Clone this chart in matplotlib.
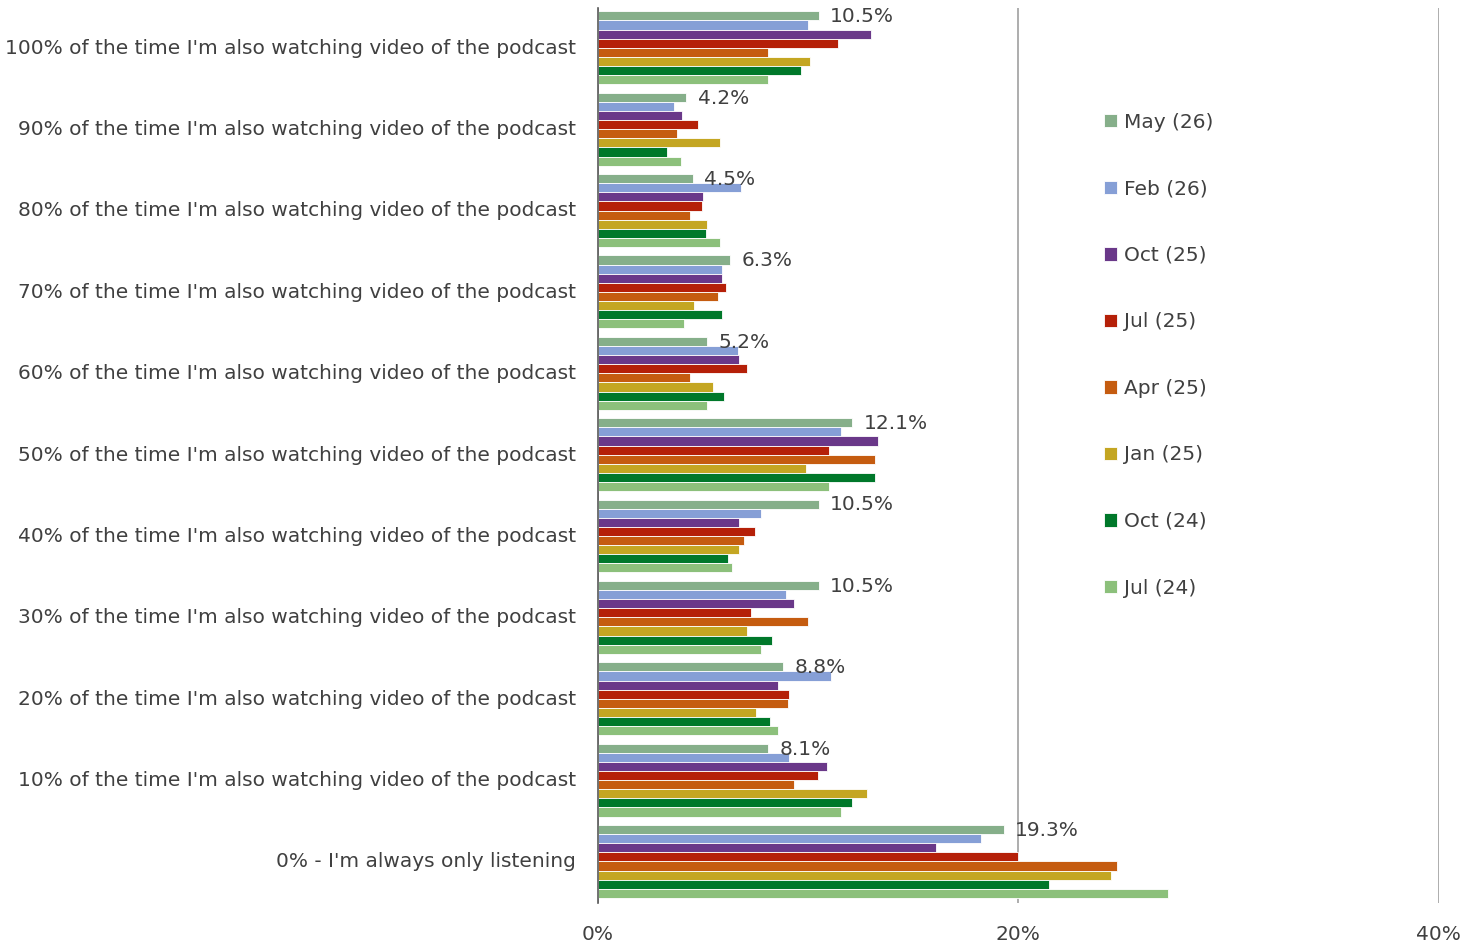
import matplotlib.pyplot as plt
import numpy as np

categories = [
    "100% of the time I'm also watching video of the podcast",
    "90% of the time I'm also watching video of the podcast",
    "80% of the time I'm also watching video of the podcast",
    "70% of the time I'm also watching video of the podcast",
    "60% of the time I'm also watching video of the podcast",
    "50% of the time I'm also watching video of the podcast",
    "40% of the time I'm also watching video of the podcast",
    "30% of the time I'm also watching video of the podcast",
    "20% of the time I'm also watching video of the podcast",
    "10% of the time I'm also watching video of the podcast",
    "0% - I'm always only listening",
]

series_names = ["May (26)", "Feb (26)", "Oct (25)", "Jul (25)", "Apr (25)", "Jan (25)", "Oct (24)", "Jul (24)"]
colors = ["#86af8a", "#869fd6", "#6a3889", "#b52008", "#c55c10", "#c4a622", "#00782a", "#8cc07b"]

may26 = [10.5, 4.2, 4.5, 6.3, 5.2, 12.1, 10.5, 10.5, 8.8, 8.1, 19.3]
feb26 = [10.0, 3.6, 6.8, 5.9, 6.65, 11.55, 7.75, 8.95, 11.1, 9.1, 18.2]
oct25 = [13.0, 4.0, 5.0, 5.9, 6.7, 13.3, 6.7, 9.35, 8.55, 10.9, 16.1]
jul25 = [11.4, 4.75, 4.95, 6.1, 7.1, 11.0, 7.45, 7.3, 9.1, 10.45, 20.0]
apr25 = [8.1, 3.75, 4.4, 5.7, 4.4, 13.2, 6.95, 10.0, 9.05, 9.35, 24.7]
jan25 = [10.1, 5.8, 5.2, 4.55, 5.45, 9.9, 6.7, 7.1, 7.5, 12.8, 24.4]
oct24 = [9.65, 3.3, 5.15, 5.9, 6.0, 13.2, 6.2, 8.3, 8.2, 12.1, 21.45]
jul24 = [8.1, 3.95, 5.8, 4.1, 5.2, 11.0, 6.4, 7.75, 8.55, 11.55, 27.1]

series = [may26, feb26, oct25, jul25, apr25, jan25, oct24, jul24]

fig = plt.figure(figsize=(14.83, 9.47), dpi=100)
ax = fig.add_axes([0.4032, 0.0465, 0.567, 0.9451])

n = len(categories)
y = np.arange(n)[::-1]  # first category at top
bh = 0.112
for i, (vals, name, col) in enumerate(zip(series, series_names, colors)):
    offs = (3.5 - i) * bh + 0.01
    ax.barh(y + offs, vals, height=bh, color=col, edgecolor="white", linewidth=0.6, label=name, zorder=3)
    if i == 0:
        for yy, v in zip(y, vals):
            ax.text(v + 0.55, yy + offs - 0.01, "%.1f%%" % v, va="center", ha="left",
                    fontsize=14.5, color="#404040", zorder=4)

ax.set_xlim(0, 40)
ax.set_ylim(-0.5, n - 0.5)
ax.set_xticks([0, 20, 40])
ax.set_xticklabels(["0%", "20%", "40%"], fontsize=14.5, color="#404040")
ax.set_yticks(y + 0.03)
ax.set_yticklabels(categories, fontsize=14.5, color="#404040")
ax.tick_params(axis="both", length=0)
ax.tick_params(axis="y", pad=16)
ax.tick_params(axis="x", pad=16)
ax.xaxis.grid(True, color="#a0a0a0", linewidth=1.2, zorder=0)
for s in ["top", "right", "bottom"]:
    ax.spines[s].set_visible(False)
ax.spines["left"].set_color("#595959")
ax.spines["left"].set_linewidth(1.2)
ax.spines["left"].set_zorder(5)

leg = fig.legend(loc="upper left", bbox_to_anchor=(0.732, 0.90), frameon=False, fontsize=14.5,
                 labelspacing=2.36, handlelength=0.65, handleheight=0.65, handletextpad=0.35,
                 labelcolor="#404040")

fig.savefig("out.png", dpi=100)
